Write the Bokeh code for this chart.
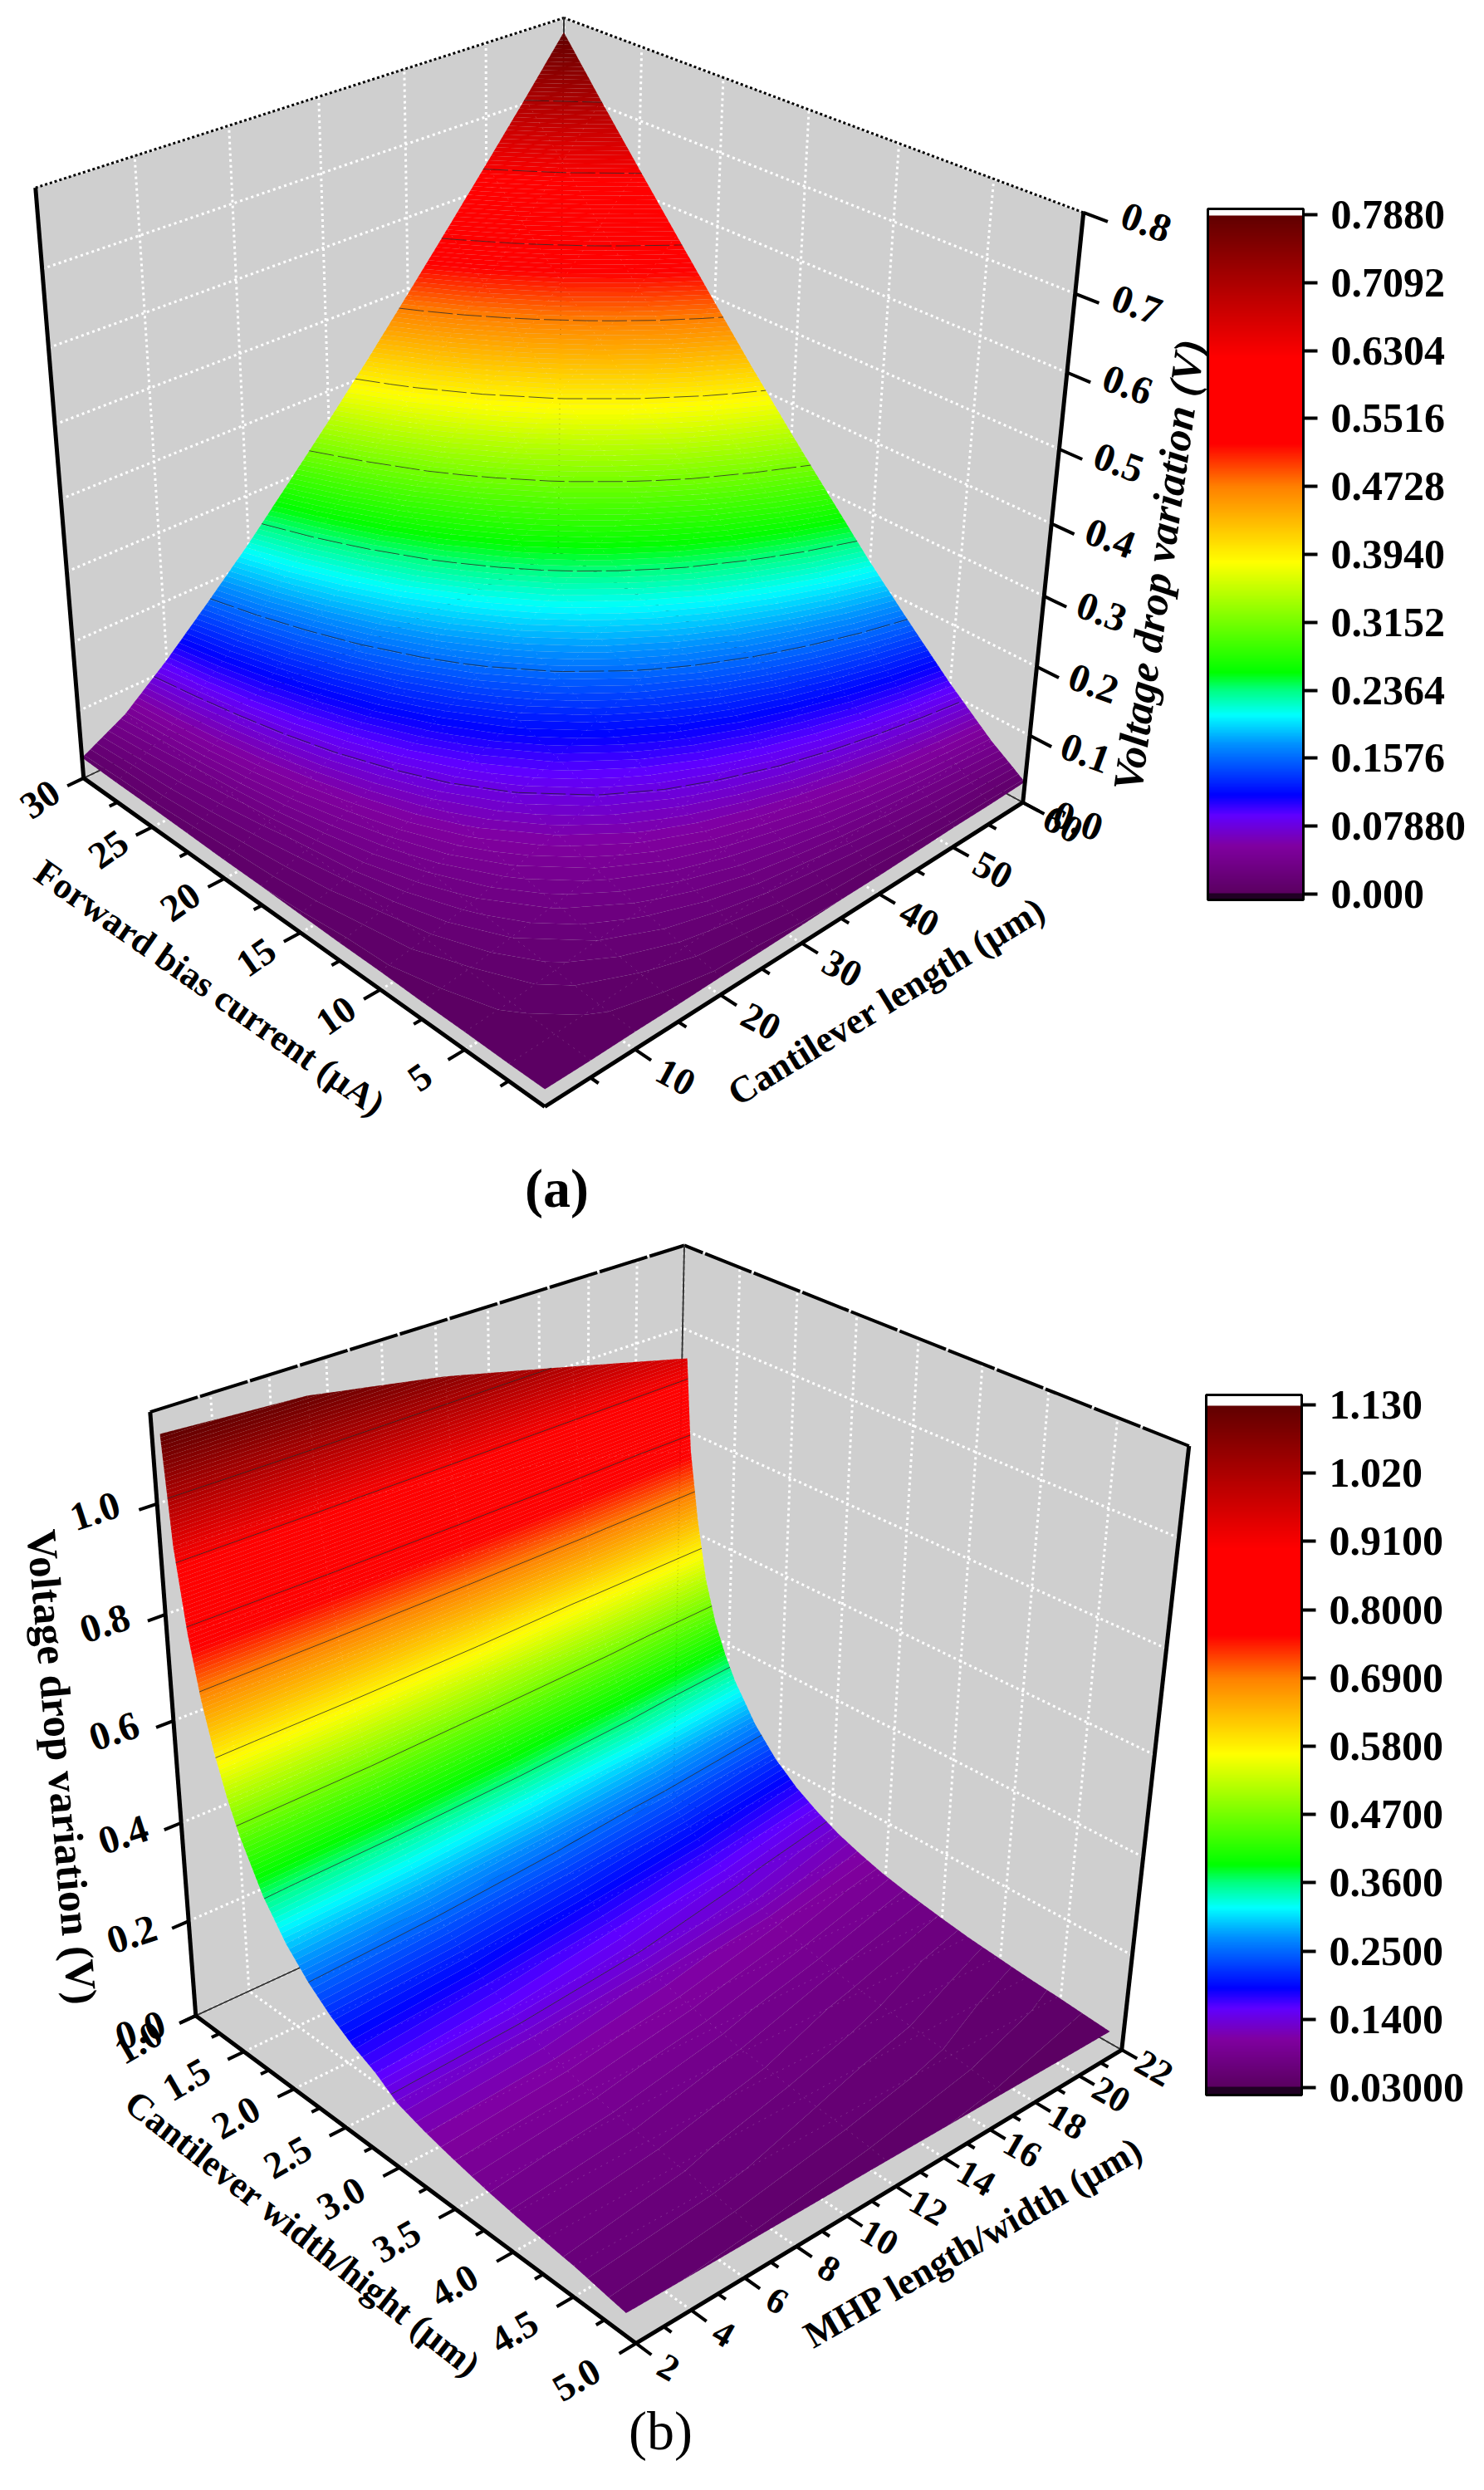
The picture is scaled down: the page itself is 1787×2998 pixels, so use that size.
#!/usr/bin/env python3

import numpy as np
from bokeh.core.properties import value
from bokeh.embed import file_html
from bokeh.layouts import column
from bokeh.models import ColorBar, FixedTicker, LinearColorMapper
from bokeh.plotting import figure
from bokeh.resources import INLINE

# panel (a) data
current = [0.5, 2.5, 5, 7.5, 10, 12.5, 15, 17.5, 20, 22.5, 25, 27.5, 30]
cant_length = [0, 5, 10, 15, 20, 25, 30, 35, 40, 45, 50, 55, 60]
drop_a = [
	[0.000, 0.000, 0.001, 0.001, 0.002, 0.002, 0.003, 0.004, 0.004, 0.005, 0.006, 0.006, 0.007],
	[0.000, 0.002, 0.005, 0.008, 0.012, 0.015, 0.019, 0.022, 0.026, 0.030, 0.034, 0.038, 0.042],
	[0.001, 0.005, 0.012, 0.019, 0.026, 0.034, 0.042, 0.050, 0.059, 0.068, 0.077, 0.086, 0.095],
	[0.001, 0.008, 0.019, 0.030, 0.042, 0.055, 0.068, 0.081, 0.095, 0.109, 0.124, 0.139, 0.154],
	[0.002, 0.012, 0.026, 0.042, 0.059, 0.077, 0.095, 0.114, 0.134, 0.154, 0.174, 0.195, 0.215],
	[0.002, 0.015, 0.034, 0.055, 0.077, 0.100, 0.124, 0.149, 0.174, 0.200, 0.226, 0.253, 0.281],
	[0.003, 0.019, 0.042, 0.068, 0.095, 0.124, 0.154, 0.184, 0.215, 0.248, 0.281, 0.314, 0.348],
	[0.004, 0.022, 0.050, 0.081, 0.114, 0.149, 0.184, 0.221, 0.259, 0.297, 0.337, 0.377, 0.417],
	[0.004, 0.026, 0.059, 0.095, 0.134, 0.174, 0.215, 0.259, 0.303, 0.348, 0.394, 0.441, 0.489],
	[0.005, 0.030, 0.068, 0.109, 0.154, 0.200, 0.248, 0.297, 0.348, 0.400, 0.452, 0.507, 0.562],
	[0.006, 0.034, 0.077, 0.124, 0.174, 0.226, 0.281, 0.337, 0.394, 0.452, 0.513, 0.573, 0.636],
	[0.006, 0.038, 0.086, 0.139, 0.195, 0.253, 0.314, 0.377, 0.441, 0.507, 0.573, 0.642, 0.711],
	[0.007, 0.042, 0.095, 0.154, 0.215, 0.281, 0.348, 0.417, 0.489, 0.562, 0.636, 0.711, 0.788],
]
current_ticks = [5, 10, 15, 20, 25, 30]
current_minor = [2.5, 7.5, 12.5, 17.5, 22.5, 27.5]
length_ticks = [10, 20, 30, 40, 50, 60]
length_minor = [5, 15, 25, 35, 45, 55]
drop_ticks_a = [0.0, 0.1, 0.2, 0.3, 0.4, 0.5, 0.6, 0.7, 0.8]
bar_ticks_a = [0.0, 0.0788, 0.1576, 0.2364, 0.3152, 0.394, 0.4728, 0.5516, 0.6304, 0.7092, 0.788]
bar_labels_a = ["0.000", "0.07880", "0.1576", "0.2364", "0.3152", "0.3940", "0.4728", "0.5516", "0.6304", "0.7092", "0.7880"]

# panel (b) data
cant_width = [1.08, 1.13, 1.21, 1.3, 1.4, 1.5, 1.6, 1.8, 2.0, 2.2, 2.4, 2.6, 2.8, 3.0, 3.25, 3.5, 3.75, 4.0, 4.25, 4.5, 4.92]
mhp = [2, 7, 12, 17, 21.85]
drop_b = [
	[1.130, 0.937, 0.790, 0.677, 0.586, 0.513, 0.454, 0.363, 0.298, 0.250, 0.213, 0.184, 0.162, 0.131, 0.113, 0.099, 0.087, 0.077, 0.069, 0.062, 0.045],
	[1.115, 0.920, 0.775, 0.653, 0.565, 0.493, 0.437, 0.347, 0.285, 0.238, 0.203, 0.174, 0.153, 0.126, 0.109, 0.095, 0.083, 0.074, 0.066, 0.059, 0.042],
	[1.070, 0.885, 0.745, 0.620, 0.530, 0.463, 0.409, 0.325, 0.265, 0.221, 0.187, 0.161, 0.141, 0.117, 0.102, 0.088, 0.077, 0.069, 0.060, 0.054, 0.039],
	[1.010, 0.835, 0.700, 0.570, 0.488, 0.425, 0.376, 0.298, 0.242, 0.201, 0.170, 0.145, 0.127, 0.107, 0.092, 0.079, 0.069, 0.062, 0.055, 0.049, 0.035],
	[0.950, 0.770, 0.635, 0.520, 0.439, 0.382, 0.336, 0.266, 0.215, 0.178, 0.150, 0.127, 0.110, 0.095, 0.082, 0.071, 0.061, 0.054, 0.047, 0.042, 0.031],
]
width_ticks = [1.0, 1.5, 2.0, 2.5, 3.0, 3.5, 4.0, 4.5, 5.0]
width_minor = [1.25, 1.75, 2.25, 2.75, 3.25, 3.75, 4.25, 4.75]
mhp_ticks = [2, 4, 6, 8, 10, 12, 14, 16, 18, 20, 22]
mhp_minor = [3, 5, 7, 9, 11, 13, 15, 17, 19, 21]
drop_ticks_b = [0.0, 0.2, 0.4, 0.6, 0.8, 1.0]
bar_ticks_b = [0.03, 0.14, 0.25, 0.36, 0.47, 0.58, 0.69, 0.8, 0.91, 1.02, 1.13]
bar_labels_b = ["0.03000", "0.1400", "0.2500", "0.3600", "0.4700", "0.5800", "0.6900", "0.8000", "0.9100", "1.020", "1.130"]

# rainbow of the colour bars, fraction of range -> rgb
cmap_pos = [0.0, 0.07, 0.115, 0.145, 0.22, 0.263, 0.30, 0.326, 0.488, 0.60, 0.663, 0.79, 0.916, 1.0]
cmap_rgb = [
	(90, 0, 96), (128, 0, 160), (96, 0, 255), (0, 0, 255), (0, 144, 255), (0, 255, 255), (0, 255, 128),
	(0, 255, 0), (255, 255, 0), (255, 128, 0), (255, 0, 0), (255, 0, 0), (160, 0, 0), (96, 0, 0),
]

FONT = "Liberation Serif"
WALL = "#cfcfcf"


def rainbow(fracs):
	rgb = np.array(cmap_rgb, dtype=float)
	out = []
	for f in fracs:
		c = [int(round(np.interp(f, cmap_pos, rgb[:, i]))) for i in range(3)]
		out.append("#%02x%02x%02x" % tuple(c))
	return out


def fitCamera(corners):
	# corners: {(u, v, w): (px, py)}, plain DLT so ticks get the perspective of the picture
	rows = []
	for (u, v, w), (px, py) in corners.items():
		rows.append([u, v, w, 1, 0, 0, 0, 0, -px * u, -px * v, -px * w, -px])
		rows.append([0, 0, 0, 0, u, v, w, 1, -py * u, -py * v, -py * w, -py])
	return np.linalg.svd(np.array(rows, dtype=float))[2][-1].reshape(3, 4)


def project(cam, u, v, w):
	u, v, w = np.broadcast_arrays(np.asarray(u, dtype=float), np.asarray(v, dtype=float), np.asarray(w, dtype=float))
	pts = np.stack([u, v, w, np.ones_like(u)], axis=-1) @ cam.T
	return pts[..., 0] / pts[..., 2], pts[..., 1] / pts[..., 2]


def drawWall(p, cam, a, b, c, d):
	xs, ys = project(cam, [a[0], b[0], c[0], d[0]], [a[1], b[1], c[1], d[1]], [a[2], b[2], c[2], d[2]])
	p.patch(list(xs), list(ys), fill_color=WALL, line_color=None)


def drawSegments(p, cam, starts, ends, **style):
	s = np.array(starts, dtype=float)
	e = np.array(ends, dtype=float)
	x0, y0 = project(cam, s[:, 0], s[:, 1], s[:, 2])
	x1, y1 = project(cam, e[:, 0], e[:, 1], e[:, 2])
	p.segment(x0, y0, x1, y1, **style)


def drawLabels(p, cam, pts, labels, angle, size):
	a = np.array(pts, dtype=float)
	x, y = project(cam, a[:, 0], a[:, 1], a[:, 2])
	p.text(x, y, text=labels, angle=[angle] * len(labels), angle_units="deg", text_font=value(FONT),
		text_font_style="bold", text_font_size=value(size), text_align="center", text_baseline="middle")


def drawTitle(p, x, y, label, angle, size, style="bold"):
	p.text([x], [y], text=[label], angle=[angle], angle_units="deg", text_font=value(FONT), text_font_style=style,
		text_font_size=value(size), text_align="center", text_baseline="middle")


def makeFigure(top, bottom):
	p = figure(width=1771, height=bottom - top, x_range=(8, 1779), y_range=(bottom, top), x_axis_type=None,
		y_axis_type=None, output_backend="svg", toolbar_location=None, min_border=0)
	p.grid.visible = False
	p.outline_line_color = None
	return p


def drawBox(p, cam, us, vs, ws, top_dash, top_width):
	drawWall(p, cam, (1, 0, 0), (1, 1, 0), (1, 1, 1), (1, 0, 1))
	drawWall(p, cam, (0, 1, 0), (1, 1, 0), (1, 1, 1), (0, 1, 1))
	drawWall(p, cam, (0, 0, 0), (1, 0, 0), (1, 1, 0), (0, 1, 0))
	grid = dict(line_color="white", line_width=3, line_dash="3 4")
	drawSegments(p, cam, [(1, v, 0) for v in vs], [(1, v, 1) for v in vs], **grid)
	drawSegments(p, cam, [(u, 1, 0) for u in us], [(u, 1, 1) for u in us], **grid)
	drawSegments(p, cam, [(1, 0, w) for w in ws], [(1, 1, w) for w in ws], **grid)
	drawSegments(p, cam, [(0, 1, w) for w in ws], [(1, 1, w) for w in ws], **grid)
	drawSegments(p, cam, [(u, 0, 0) for u in us], [(u, 1, 0) for u in us], **grid)
	drawSegments(p, cam, [(0, v, 0) for v in vs], [(1, v, 0) for v in vs], **grid)
	drawSegments(p, cam, [(1, 0, 1), (0, 1, 1)], [(1, 1, 1), (1, 1, 1)], line_color="black", line_width=top_width, line_dash=top_dash)
	drawSegments(p, cam, [(1, 1, 0), (1, 0, 0), (0, 1, 0)], [(1, 1, 1), (1, 1, 0), (1, 1, 0)], line_color="#333333", line_width=2)


def drawSurface(p, cam, us, vs, z, zaxis, lo, hi, cut_levels):
	z = np.array(z, dtype=float)
	uu, vv = np.meshgrid(us, vs, indexing="ij")
	x, y = project(cam, uu, vv, lo + z / zaxis * (hi - lo))
	zmin, zmax = cut_levels[0], cut_levels[1]
	levels = np.linspace(zmin, zmax, 161)
	palette = rainbow((0.5 * (levels[:-1] + levels[1:]) - zmin) / (zmax - zmin))
	cr = p.contour(x, y, z, levels, fill_color=palette, line_color=None)
	g = cr.fill_renderer.glyph
	g.line_color = g.fill_color
	g.line_width = 1
	# the faint dotted mesh lying on the surface
	p.multi_line(list(x) + list(x.T), list(y) + list(y.T), line_color="white", line_alpha=0.18, line_width=1, line_dash="2 6")
	return x, y, z


def drawAxis(p, cam, starts, ends, ticks, minor, out, size=0.03):
	dir_u, dir_v = out
	drawSegments(p, cam, [starts], [ends], line_color="black", line_width=5)
	t = [(a + dir_u * size, b + dir_v * size, c) for a, b, c in ticks]
	drawSegments(p, cam, ticks, t, line_color="black", line_width=4)
	if minor:
		t = [(a + dir_u * size / 2, b + dir_v * size / 2, c) for a, b, c in minor]
		drawSegments(p, cam, minor, t, line_color="black", line_width=4)


def addColorBar(p, low, high, ticks, labels, left, top, bottom):
	# the white cap at the top and the dark stub at the bottom sit outside the tick range
	vals = np.linspace(low, high, 600)
	fr = (vals - ticks[0]) / (ticks[-1] - ticks[0])
	cols = rainbow(np.clip(fr, 0, 1))
	cols = ["#ffffff" if f > 1 else ("#200024" if f < 0 else c) for f, c in zip(fr, cols)]
	cb = ColorBar(color_mapper=LinearColorMapper(palette=cols, low=low, high=high), width=115, height=bottom - top,
		location=(left - 8, p.y_range.start - bottom), margin=0, padding=0, ticker=FixedTicker(ticks=ticks),
		major_label_overrides=dict(zip(ticks, labels)), major_tick_in=0, major_tick_out=17, major_tick_line_color="black",
		major_tick_line_width=4, minor_tick_line_color=None, bar_line_color="black", bar_line_width=3, label_standoff=16,
		major_label_text_font=FONT, major_label_text_font_style="bold", major_label_text_font_size="50px",
		major_label_text_color="black", background_fill_color=None, border_line_color=None)
	p.add_layout(cb)


def panelA():
	p = makeFigure(8, 1475)
	cam = fitCamera({(0, 0, 0): (664, 1340), (1, 0, 0): (108, 944), (0, 1, 0): (1239, 974),
		(1, 0, 1): (50, 234), (0, 1, 1): (1312, 263), (1, 1, 1): (687, 29)})
	to_u = lambda i: (np.asarray(i, dtype=float) - 0.5) / 29.5
	to_v = lambda l: np.asarray(l, dtype=float) / 60
	to_w = lambda d: np.asarray(d, dtype=float) / 0.8

	drawBox(p, cam, to_u(current_ticks), to_v(length_ticks), to_w(drop_ticks_a), "3 3", 3)
	x, y, z = drawSurface(p, cam, to_u(current), to_v(cant_length), drop_a, 0.8, 0.03, 0.99, (-0.001, 0.7885))
	p.contour(x, y, z, bar_ticks_a[1:-1], fill_color=None, line_color="#202020", line_width=1, line_alpha=0.75, line_dash="30 5")

	drawAxis(p, cam, (0, 0, 0), (1, 0, 0), [(float(to_u(i)), 0, 0) for i in current_ticks], [(float(to_u(i)), 0, 0) for i in current_minor], (0, -1))
	drawAxis(p, cam, (0, 0, 0), (0, 1, 0), [(0, float(to_v(l)), 0) for l in length_ticks], [(0, float(to_v(l)), 0) for l in length_minor], (-1, 0))
	drawAxis(p, cam, (0, 1, 0), (0, 1, 1), [(0, 1, float(to_w(d))) for d in drop_ticks_a], None, (-1, 0), size=0.04)
	drawSegments(p, cam, [(1, 0, 0)], [(1, 0, 1)], line_color="black", line_width=5)

	drawLabels(p, cam, [(float(to_u(i)), -0.08, 0) for i in current_ticks], [str(i) for i in current_ticks], 35, "46px")
	drawLabels(p, cam, [(-0.075, float(to_v(l)), 0) for l in length_ticks], [str(l) for l in length_ticks], -28, "46px")
	drawLabels(p, cam, [(-0.1, 1, float(to_w(d)) + 0.02) for d in drop_ticks_a], ["%.1f" % d for d in drop_ticks_a], -20, "48px")

	drawTitle(p, 260, 1197, "Forward bias current (\u00b5A)", -35, "44px")
	drawTitle(p, 1075, 1213, "Cantilever length (\u00b5m)", 31.5, "45px")
	drawTitle(p, 1403, 688, "Voltage drop variation (V)", 82, "51px", "bold italic")
	drawTitle(p, 678, 1438, "(a)", 0, "66px")
	addColorBar(p, -0.0067, 0.7947, bar_ticks_a, bar_labels_a, 1462, 259, 1091)
	return p


def panelB():
	p = makeFigure(1475, 2990)
	cam = fitCamera({(0, 0, 0): (774, 2829), (1, 0, 0): (243, 2434), (0, 1, 0): (1358, 2476),
		(1, 0, 1): (188, 1708), (0, 1, 1): (1439, 1748), (1, 1, 1): (832, 1507)})
	zaxis = 1.16
	to_u = lambda c: (5 - np.asarray(c, dtype=float)) / 4
	to_v = lambda m: (np.asarray(m, dtype=float) - 2) / 20
	to_w = lambda d: np.asarray(d, dtype=float) / zaxis

	drawBox(p, cam, to_u(width_ticks), to_v(mhp_ticks), to_w(drop_ticks_b), "60 3", 4)
	x, y, z = drawSurface(p, cam, to_u(cant_width), to_v(mhp), np.array(drop_b).T, zaxis, 0.0, 1.0, (0.03, 1.1305))
	p.contour(x, y, z, bar_ticks_b[1:-1], fill_color=None, line_color="#202020", line_width=1, line_alpha=0.75)

	drawAxis(p, cam, (0, 0, 0), (1, 0, 0), [(float(to_u(c)), 0, 0) for c in width_ticks], [(float(to_u(c)), 0, 0) for c in width_minor], (0, -1))
	drawAxis(p, cam, (0, 0, 0), (0, 1, 0), [(0, float(to_v(m)), 0) for m in mhp_ticks], [(0, float(to_v(m)), 0) for m in mhp_minor], (-1, 0))
	drawAxis(p, cam, (1, 0, 0), (1, 0, 1), [(1, 0, float(to_w(d))) for d in drop_ticks_b], None, (0, -1))
	drawSegments(p, cam, [(0, 1, 0)], [(0, 1, 1)], line_color="black", line_width=5)

	drawLabels(p, cam, [(float(to_u(c)), -0.105, 0) for c in width_ticks], ["%.1f" % c for c in width_ticks], 30, "46px")
	drawLabels(p, cam, [(-0.063, float(to_v(m)), 0) for m in mhp_ticks], [str(m) for m in mhp_ticks], -30, "44px")
	drawLabels(p, cam, [(1, -0.1, float(to_w(d)) + 0.02) for d in drop_ticks_b], ["%.1f" % d for d in drop_ticks_b], 18, "48px")

	drawTitle(p, 372, 2697, "Cantilever width/hight (\u00b5m)", -38, "44px")
	drawTitle(p, 1180, 2707, "MHP length/width (\u00b5m)", 30, "45px")
	drawTitle(p, 82, 2135, "Voltage drop variation (V)", -85, "51px")
	drawTitle(p, 803, 2934, "(b)", 0, "66px", "normal")
	addColorBar(p, 0.018, 1.146, bar_ticks_b, bar_labels_b, 1460, 1687, 2530)
	return p


def main():
	page = column(panelA(), panelB(), spacing=0)
	open("out.html", "w").write(file_html(page, INLINE))


if __name__ == "__main__":
	main()
